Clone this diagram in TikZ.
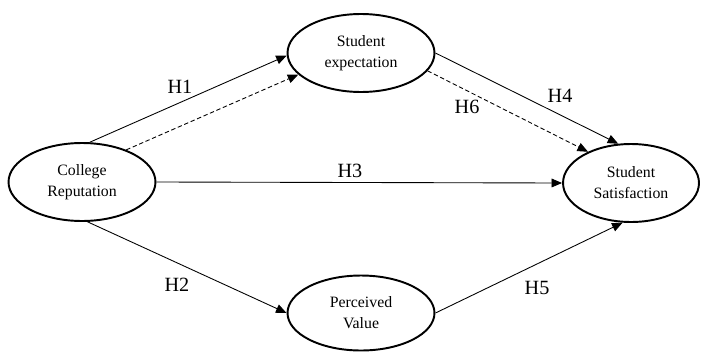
\documentclass[tikz,border=0pt]{standalone}
\usepackage{fontspec}
\setmainfont{Liberation Serif}
\usetikzlibrary{arrows.meta,shapes.geometric}

\begin{document}
\begin{tikzpicture}[x=0.02cm,y=-0.02cm,
  construct/.style={ellipse,draw,line width=1.1pt,minimum width=2.94cm,minimum height=1.56cm,
    inner sep=0pt,align=center,font=\fontsize{9}{12}\selectfont},
  hyp/.style={font=\fontsize{11.5}{13}\selectfont}]
\useasboundingbox (0,0) rectangle (702,352);
  \node[construct]                        (CR) at (82,182)  {College\\Reputation};
  \node[construct]                        (SE) at (361,53)  {Student\\expectation};
  \node[construct, minimum width=2.72cm]  (SS) at (631,183) {Student\\Satisfaction};
  \node[construct, minimum height=1.5cm]  (PV) at (361,313) {Perceived\\Value};

  \node[hyp] (H1) at (180,87)  {H1};
  \node[hyp] (H2) at (177,285) {H2};
  \node[hyp] (H3) at (350,171) {H3};
  \node[hyp] (H4) at (560,96)  {H4};
  \node[hyp] (H5) at (537,288) {H5};
  \node[hyp] (H6) at (467,107) {H6};

  \path[->,>={Triangle[length=6pt,width=5pt]}, line width=0.5pt]
        (CR.79)  edge              node {} (SE.182)
        (SE.east) edge             node {} (SS.108)
        (CR.east) edge             node {} (SS.west)
        (CR.278) edge              node {} (PV.west)
        (PV.east) edge             node {} (SS.258);

  \path[->,>={Triangle[length=6pt,width=5pt]}, line width=0.5pt, dash pattern=on 2.5pt off 1.5pt]
        (CR.36)  edge              node {} (SE.199)
        (SE.-15) edge              node {} (SS.144);
\end{tikzpicture}
\end{document}
